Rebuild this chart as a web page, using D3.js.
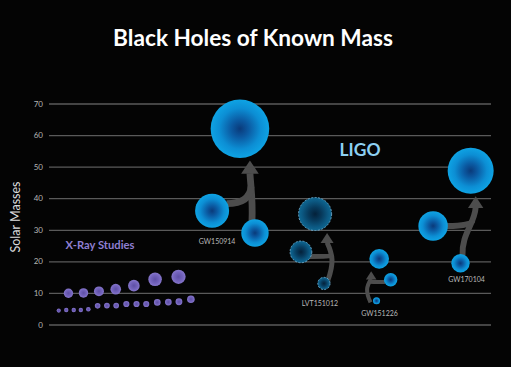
<!DOCTYPE html>
<html><head><meta charset="utf-8">
<script src="https://cdn.jsdelivr.net/npm/d3@7"></script>
<style>html,body{margin:0;padding:0;background:#040404;}svg{display:block;}</style>
</head><body>
<script>
// ---------- DATA ----------
const title = "Black Holes of Known Mass";
const yLabel = "Solar Masses";
const yTicks = [0, 10, 20, 30, 40, 50, 60, 70];
// X-ray binaries (x = position along the horizontal ordering, 0..100)
const xrayUpperX = [4.4, 7.8, 11.3, 15.1, 19.2, 24.0, 29.3];
const xrayUpperMass = [9.9, 10.0, 10.5, 11.2, 12.3, 14.3, 15.1];
const xrayLowerX = [2.2, 3.9, 5.6, 7.2, 8.9, 11.0, 13.1, 15.2, 17.5, 19.8, 22.0, 24.5, 27.0, 29.4, 32.1];
const xrayLowerMass = [4.4, 4.6, 4.6, 4.6, 4.8, 5.9, 6.0, 6.0, 6.5, 6.5, 6.5, 7.0, 7.1, 7.2, 8.0];
// LIGO events
const events = ["GW150914", "LVT151012", "GW151226", "GW170104"];
const primaryX = [36.9, 57.0, 77.3, 86.9];
const primaryMass = [36, 23, 14.2, 31.2];
const secondaryX = [46.6, 62.2, 74.1, 93.1];
const secondaryMass = [29, 13, 7.5, 19.4];
const finalX = [43.2, 60.2, 74.7, 95.4];
const finalMass = [62, 35, 20.8, 48.7];
const candidate = [false, true, false, false]; // LVT = candidate (dashed)
const groupLabels = ["X-Ray Studies", "LIGO"];

// ---------- STYLE / LAYOUT ----------
const W = 511, H = 367;
const plot = {left: 49, right: 491, top: 103.5, bottom: 324.5};
const arrowDx = [10, 12, -8, 5];            // tip offset from final-hole centre (px)
const stemDx = [-3, 4, -6, 2];              // stem start offset from secondary centre (px)
const stemBulge = [1, 6, -5, -1];           // horizontal bulge of the stem (px)
const branchAngle = [-25, 25, 20, 0];       // degrees; where branch leaves the primary
const joinFrac = [0.55, 0.05, 0.05, 0.3];   // how high the branch joins the stem
const labelAnchor = ["p", "s", "s", "s"];
const labelDx = [5, -4, 3, 6];
const labelDy = [16, 16, 12, 10];

const svg = d3.select("body").append("svg").attr("width", W).attr("height", H);
svg.append("rect").attr("width", W).attr("height", H).attr("fill", "#040404");

const x = d3.scaleLinear().domain([0, 100]).range([plot.left, plot.right]);
const y = d3.scaleLinear().domain([0, 70]).range([plot.bottom, plot.top]);
const r = d3.scaleLinear().domain([0, 62]).range([0, 29.3]);
const aw = d3.scaleLinear().domain([20, 62]).range([4, 6.8]);

const defs = svg.append("defs");
function radial(id, stops) {
  const g = defs.append("radialGradient").attr("id", id).attr("cx", "50%").attr("cy", "50%").attr("r", "50%");
  stops.forEach(s => g.append("stop").attr("offset", s[0]).attr("stop-color", s[1]));
}
radial("gBlue", [[0, "#0a3a7a"], [0.3, "#0b5aa2"], [0.7, "#0c8ed4"], [1, "#0ea3e4"]]);
radial("gDark", [[0, "#04213a"], [0.4, "#073a5c"], [0.8, "#0c5a84"], [1, "#0f6892"]]);
radial("gPurple", [[0, "#5e4fa6"], [0.6, "#7262bb"], [1, "#8676cc"]]);

const yAxis = d3.axisLeft(y).tickValues(yTicks).tickSize(-(plot.right - plot.left)).tickPadding(6);
const ga = svg.append("g").attr("transform", `translate(${plot.left},0)`).call(yAxis);
ga.select(".domain").remove();
ga.selectAll(".tick line").attr("stroke", "#5a5a5a").attr("stroke-width", 1.3);
ga.selectAll(".tick text").attr("fill", "#b4b4b4").attr("font-size", 8)
  .attr("font-family", "Lato, 'Open Sans', sans-serif");

function fit(sel, w) {
  const L = sel.node().getComputedTextLength();
  const fs = parseFloat(sel.attr("font-size"));
  sel.attr("font-size", fs * w / L);
}
const t = svg.append("text").attr("x", 253).attr("y", 46).attr("text-anchor", "middle")
  .attr("fill", "#fff").attr("font-weight", "bold").attr("font-size", 21)
  .attr("font-family", "Lato, 'Open Sans', sans-serif").text(title);
fit(t, 280);

svg.append("text").attr("transform", "translate(20,217) rotate(-90)").attr("text-anchor", "middle")
  .attr("fill", "#dcdcdc").attr("font-size", 12.5).attr("font-family", "Lato, 'Open Sans', sans-serif")
  .text(yLabel);

const xrayAll = xrayUpperX.map((v, i) => ({x: v, m: xrayUpperMass[i]}))
  .concat(xrayLowerX.map((v, i) => ({x: v, m: xrayLowerMass[i]})));
svg.append("g").selectAll("circle").data(xrayAll).join("circle")
  .attr("cx", d => x(d.x)).attr("cy", d => y(d.m)).attr("r", d => r(d.m))
  .attr("fill", "url(#gPurple)");
const xl = svg.append("text").attr("x", 100).attr("y", 249).attr("text-anchor", "middle")
  .attr("fill", "#8e7fd2").attr("font-weight", "bold").attr("font-size", 10.5)
  .attr("font-family", "Lato, 'Open Sans', sans-serif").text(groupLabels[0]);
fit(xl, 69);

const ll = svg.append("text").attr("x", 360).attr("y", 156).attr("text-anchor", "middle")
  .attr("fill", "#8dd0f2").attr("font-weight", "bold").attr("font-size", 17)
  .attr("font-family", "Lato, 'Open Sans', sans-serif").text(groupLabels[1]);
fit(ll, 41);

const ev = events.map((name, i) => ({
  name, i, cand: candidate[i],
  p: {x: x(primaryX[i]), y: y(primaryMass[i]), r: r(primaryMass[i])},
  s: {x: x(secondaryX[i]), y: y(secondaryMass[i]), r: r(secondaryMass[i])},
  f: {x: x(finalX[i]), y: y(finalMass[i]), r: r(finalMass[i])},
  w: aw(finalMass[i])
}));

const arrowColor = "#4d4d4d";
const ag = svg.append("g");
ev.forEach(e => {
  const i = e.i;
  const T = {x: e.f.x + arrowDx[i], y: e.f.y + e.f.r + 2.5};
  const hl = 1.8 * e.w, hw = 1.3 * e.w;
  const Hb = {x: T.x, y: T.y + hl};
  const S = {x: e.s.x + stemDx[i], y: e.s.y - Math.sqrt(Math.max(0, e.s.r * e.s.r - stemDx[i] * stemDx[i])) + 1.5};
  const span = S.y - Hb.y;
  const c1 = {x: S.x + stemBulge[i], y: S.y - span * 0.45};
  const c2 = {x: Hb.x + stemBulge[i], y: Hb.y + span * 0.35};
  // cubic bezier point helper
  const bez = tt => {
    const u = 1 - tt;
    return {
      x: u*u*u*S.x + 3*u*u*tt*c1.x + 3*u*tt*tt*c2.x + tt*tt*tt*Hb.x,
      y: u*u*u*S.y + 3*u*u*tt*c1.y + 3*u*tt*tt*c2.y + tt*tt*tt*Hb.y
    };
  };
  ag.append("path").attr("d", `M${S.x},${S.y}C${c1.x},${c1.y} ${c2.x},${c2.y} ${Hb.x},${Hb.y + 0.5}`)
    .attr("fill", "none").attr("stroke", arrowColor).attr("stroke-width", e.w);
  // branch from primary
  const side = e.p.x < T.x ? 1 : -1;
  const ang = branchAngle[i] * Math.PI / 180;
  const B = {x: e.p.x + side * (e.p.r * Math.cos(ang) - 1), y: e.p.y + e.p.r * Math.sin(ang)};
  const jyTarget = B.y - joinFrac[i] * (B.y - Hb.y);
  // find stem point at that height
  let J = bez(0.5), best = 1e9;
  for (let k = 0; k <= 100; k++) {
    const p = bez(k / 100);
    if (Math.abs(p.y - jyTarget) < best) { best = Math.abs(p.y - jyTarget); J = p; }
  }
  ag.append("path").attr("d", `M${B.x},${B.y}Q${J.x - side * 1},${B.y} ${J.x},${J.y}`)
    .attr("fill", "none").attr("stroke", arrowColor).attr("stroke-width", e.w);
  ag.append("path").attr("d", `M${T.x},${T.y}L${T.x - hw},${Hb.y + 1}L${T.x + hw},${Hb.y + 1}Z`)
    .attr("fill", arrowColor);
});

const cg = svg.append("g");
ev.forEach(e => {
  ["f", "p", "s"].forEach(k => {
    const c = e[k];
    const circ = cg.append("circle").attr("cx", c.x).attr("cy", c.y).attr("r", c.r)
      .attr("fill", e.cand ? "url(#gDark)" : "url(#gBlue)");
    if (e.cand) circ.attr("stroke", "#6fa9cc").attr("stroke-width", 0.9).attr("stroke-dasharray", "2,1.5");
  });
  const a = labelAnchor[e.i] === "p" ? e.p : e.s;
  svg.append("text").attr("x", a.x + labelDx[e.i]).attr("y", a.y + a.r + labelDy[e.i])
    .attr("text-anchor", "middle").attr("fill", "#b8b8b8").attr("font-size", 7)
    .attr("font-family", "Lato, 'Open Sans', sans-serif").text(e.name);
});
</script>
</body></html>
